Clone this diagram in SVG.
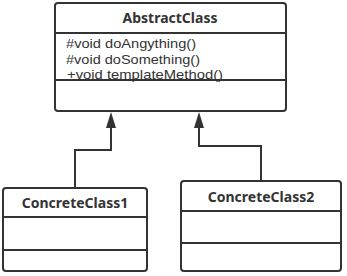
<svg xmlns="http://www.w3.org/2000/svg" width="347" height="276" viewBox="0 0 347 276">
  <style>
    .box { fill: #ffffff; stroke: #333333; stroke-width: 2; }
    .div { stroke: #333333; stroke-width: 2; }
    .title { font-family: "Noto Sans", "Open Sans", sans-serif; font-weight: bold; font-size: 14px; fill: #333333; text-anchor: middle; }
    .member { font-family: "Liberation Sans", Arial, sans-serif; font-size: 13.5px; fill: #333333; }
    .edge { fill: none; stroke: #333333; stroke-width: 2; }
    .head { fill: #333333; }
  </style>
  <rect width="347" height="276" fill="#ffffff"/>

  <g id="connectors">
    <path class="edge" d="M75 188 V150 H111 V128"/>
    <path class="head" d="M111 112 L116 128 L106 128 Z"/>
    <path class="edge" d="M261 181 V146 H199 V128"/>
    <path class="head" d="M199 112 L204 128 L194 128 Z"/>
  </g>

  <g id="AbstractClass">
    <rect class="box" x="55" y="3" width="231" height="108" rx="3"/>
    <line class="div" x1="55" y1="33" x2="286" y2="33"/>
    <line class="div" x1="55" y1="80" x2="286" y2="80"/>
    <text class="title" x="170" y="23">AbstractClass</text>
    <text class="member" x="66" y="48" textLength="130" lengthAdjust="spacingAndGlyphs">#void doAngything()</text>
    <text class="member" x="66" y="63.5" textLength="134" lengthAdjust="spacingAndGlyphs">#void doSomething()</text>
    <text class="member" x="67" y="79" textLength="156" lengthAdjust="spacingAndGlyphs">+void templateMethod()</text>
  </g>

  <g id="ConcreteClass1">
    <rect class="box" x="3" y="188" width="144" height="83" rx="3"/>
    <line class="div" x1="3" y1="217" x2="147" y2="217"/>
    <line class="div" x1="3" y1="250" x2="147" y2="250"/>
    <text class="title" x="75" y="208">ConcreteClass1</text>
  </g>

  <g id="ConcreteClass2">
    <rect class="box" x="181" y="181" width="160" height="90" rx="3"/>
    <line class="div" x1="181" y1="211" x2="341" y2="211"/>
    <line class="div" x1="181" y1="243" x2="341" y2="243"/>
    <text class="title" x="261" y="202">ConcreteClass2</text>
  </g>
</svg>
